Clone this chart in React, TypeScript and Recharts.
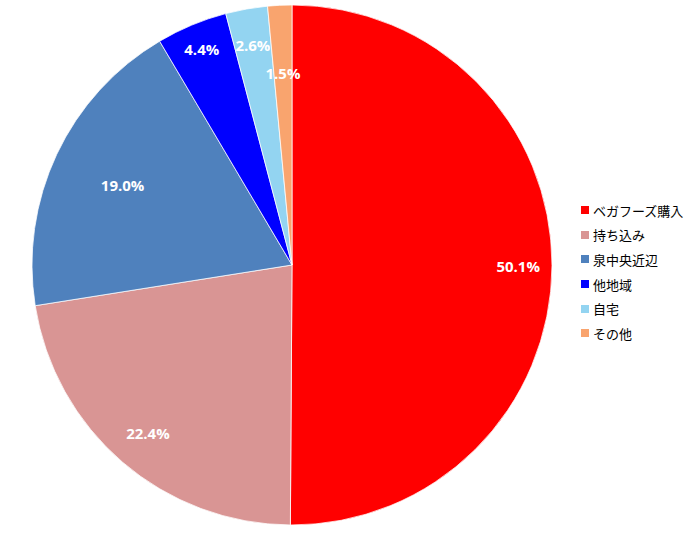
import React from "react";
import { PieChart, Pie, Cell } from "recharts";

const categories = ["ベガフーズ購入", "持ち込み", "泉中央近辺", "他地域", "自宅", "その他"];
const values = [50.1, 22.4, 19.0, 4.4, 2.6, 1.5];
const colors = ["#FF0000", "#D99594", "#4F81BD", "#0000FF", "#93D4F1", "#F9A46E"];
const labelRadiusFractions = [0.87, 0.85, 0.72, 0.9, 0.86, 0.74];

const data = categories.map((name, i) => ({ name, value: values[i] }));

const RAD = Math.PI / 180;

const renderLabel = (props: any) => {
  const { cx, cy, midAngle, outerRadius, index, value } = props;
  const r = outerRadius * labelRadiusFractions[index];
  const x = cx + r * Math.cos(-midAngle * RAD);
  const y = cy + r * Math.sin(-midAngle * RAD);
  return (
    <text
      x={x}
      y={y}
      fill="#FFFFFF"
      textAnchor="middle"
      dominantBaseline="central"
      fontFamily="'Open Sans', 'Liberation Sans', sans-serif"
      fontWeight="bold"
      fontSize={15}
    >
      {value.toFixed(1)}%
    </text>
  );
};

export default function App() {
  return (
    <div style={{ position: "absolute", left: 0, top: 0, width: 699, height: 542, background: "#fff" }}>
      <PieChart width={699} height={542} margin={{ top: 0, right: 0, bottom: 0, left: 0 }}>
        <Pie
          data={data}
          dataKey="value"
          nameKey="name"
          cx={292}
          cy={265}
          outerRadius={260}
          startAngle={90}
          endAngle={-270}
          stroke="#FFFFFF"
          strokeWidth={0.75}
          label={renderLabel}
          labelLine={false}
          isAnimationActive={false}
        >
          {data.map((d, i) => (
            <Cell key={d.name} fill={colors[i]} />
          ))}
        </Pie>
      </PieChart>
      <div style={{ position: "absolute", left: 581, top: 198 }}>
        {categories.map((c, i) => (
          <div
            key={c}
            style={{
              display: "flex",
              alignItems: "center",
              height: 24.6,
              fontFamily: "'Noto Sans CJK JP', sans-serif",
              fontSize: 13,
              color: "#000",
            }}
          >
            <span style={{ display: "inline-block", width: 8, height: 8, background: colors[i], marginRight: 4 }} />
            <span>{c}</span>
          </div>
        ))}
      </div>
    </div>
  );
}
